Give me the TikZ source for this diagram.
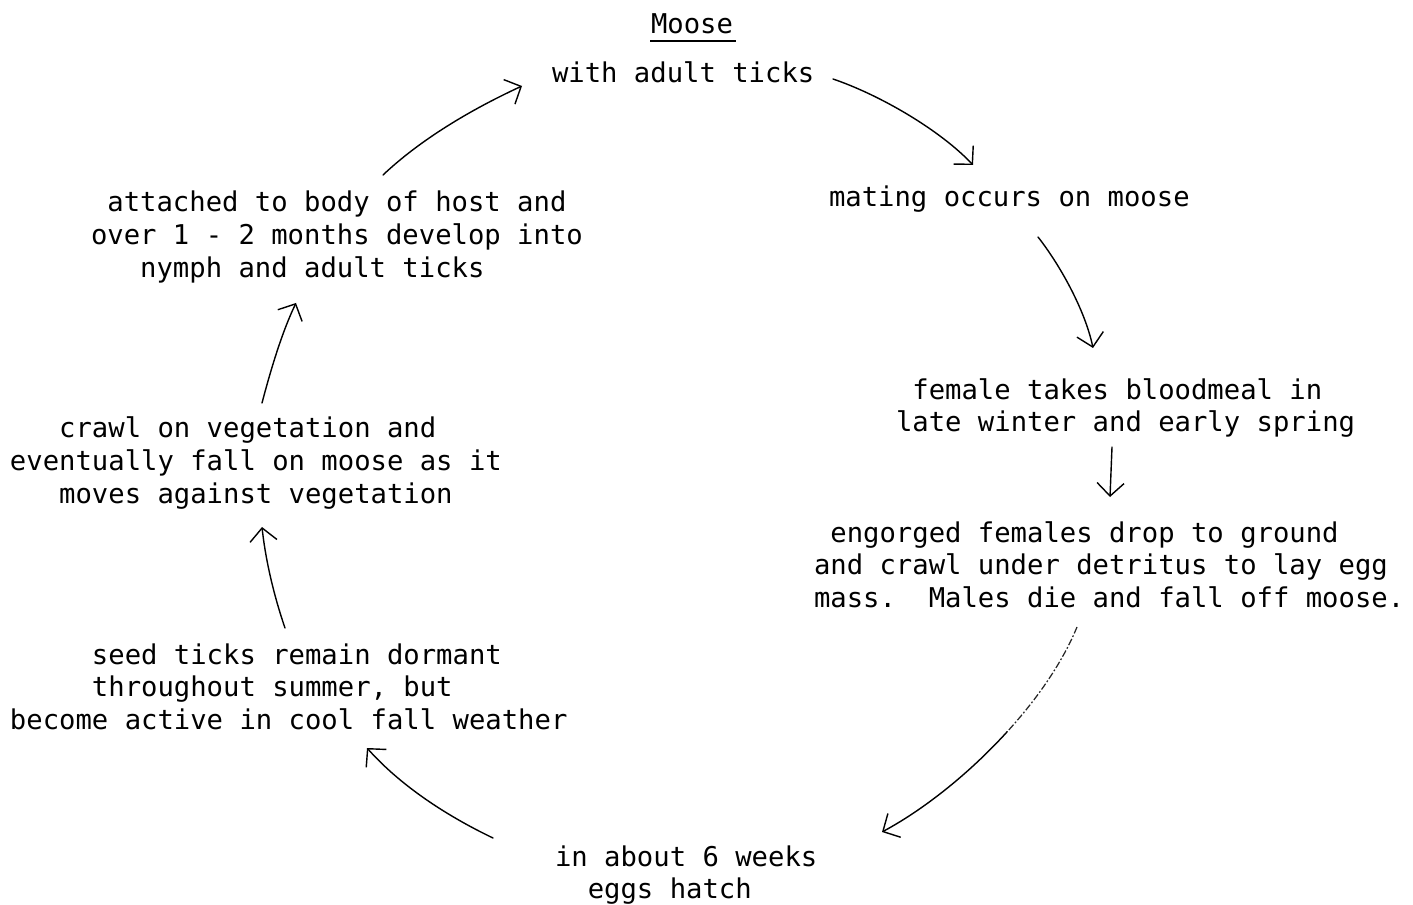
\documentclass[tikz,border=0pt]{standalone}
\usepackage{fontspec}
\newfontfamily\typer{DejaVu Sans Mono}
\usetikzlibrary{arrows.meta}
% a typed line, indented by #1 character cells of the typewriter face
\newcommand\tline[2][0]{\hbox{\hskip#1\dimexpr0.602em\relax #2}}
% a stack of typed lines; its baseline is that of the first line
\newcommand\tblock[1]{\vtop{\baselineskip=0.66cm\lineskiplimit=-1cm\relax #1}}
\begin{document}
\begin{tikzpicture}[x=0.02cm,y=-0.02cm,
  txt/.style={inner sep=0pt, outer sep=0pt, anchor=base west,
    font=\typer\fontsize{15.5}{18.6}\selectfont\frenchspacing},
  conn/.style={line width=0.8pt, line cap=round,
    -{Straight Barb[length=2.6mm, width=5.4mm, line width=0.8pt]}},
  faint/.style={line width=0.7pt, black!85,
    dash pattern=on 4pt off 1.2pt on 1pt off 1.2pt}]
\useasboundingbox (0,0) rectangle (1413,905);

% ---- stages of the winter tick cycle ----
\node[txt] (moose) at (651,34) {Moose};
\node[txt] (with) at (552,83) {with adult ticks};
\node[txt] (mating) at (829,207) {mating occurs on moose};
\node[txt] (female) at (896,399) {\tblock{%
  \tline[1]{female takes bloodmeal in}
  \tline{late winter and early spring}}};
\node[txt] (engorged) at (814,542) {\tblock{%
  \tline[1]{engorged females drop to ground}
  \tline{and crawl under detritus to lay egg}
  \tline{mass.\ \ Males die and fall off moose.}}};
\node[txt] (hatch) at (555,866) {\tblock{%
  \tline{in about 6 weeks}
  \tline[2]{eggs hatch}}};
\node[txt] (seed) at (10,664) {\tblock{%
  \tline[5]{seed ticks remain dormant}
  \tline[5]{throughout summer, but}
  \tline{become active in cool fall weather}}};
\node[txt] (crawl) at (10,438) {\tblock{%
  \tline[3]{crawl on vegetation and}
  \tline{eventually fall on moose as it}
  \tline[3]{moves against vegetation}}};
\node[txt] (attached) at (91,212) {\tblock{%
  \tline[1]{attached to body of host and}
  \tline{over 1 - 2 months develop into}
  \tline[3]{nymph and adult ticks}}};

% title underline
\draw[line width=0.9pt] ([shift={(-1,7)}]moose.base west) -- ([shift={(3,7)}]moose.base east);

% ---- arrows round the cycle ----
\draw[conn] ([shift={(281,-4)}]with.base west)
  .. controls (880,95) and (940,130) .. ([shift={(144,-42)}]mating.base west);
\draw[conn] ([shift={(209,30)}]mating.base west)
  .. controls (1060,265) and (1085,310) .. ([shift={(197,-51)}]female.base west);
\draw[conn] ([shift={(216,48)}]female.base west)
  -- ([shift={(296,-45)}]engorged.base west);
\coordinate (drop) at (1007.2,731.7);
\draw[faint] ([shift={(263,85)}]engorged.base west)
  .. controls (1062.6,662.1) and (1037.5,698.6) .. (drop);
\draw[conn] (drop)
  .. controls (969.9,772.7) and (924.9,808.9) .. ([shift={(327,-34)}]hatch.base west);
\draw[conn] ([shift={(-62,-28)}]hatch.base west)
  .. controls (445,815) and (400,785) .. ([shift={(357,84)}]seed.base west);
\draw[conn] ([shift={(275,-36)}]seed.base west)
  .. controls (272,590) and (265,555) .. ([shift={(252,89)}]crawl.base west);
\draw[conn] ([shift={(252,-35)}]crawl.base west)
  .. controls (272,365) and (283,330) .. ([shift={(205,91)}]attached.base west);
\draw[conn] ([shift={(292,-37)}]attached.base west)
  .. controls (420,140) and (470,110) .. ([shift={(-30,3)}]with.base west);
\end{tikzpicture}
\end{document}
